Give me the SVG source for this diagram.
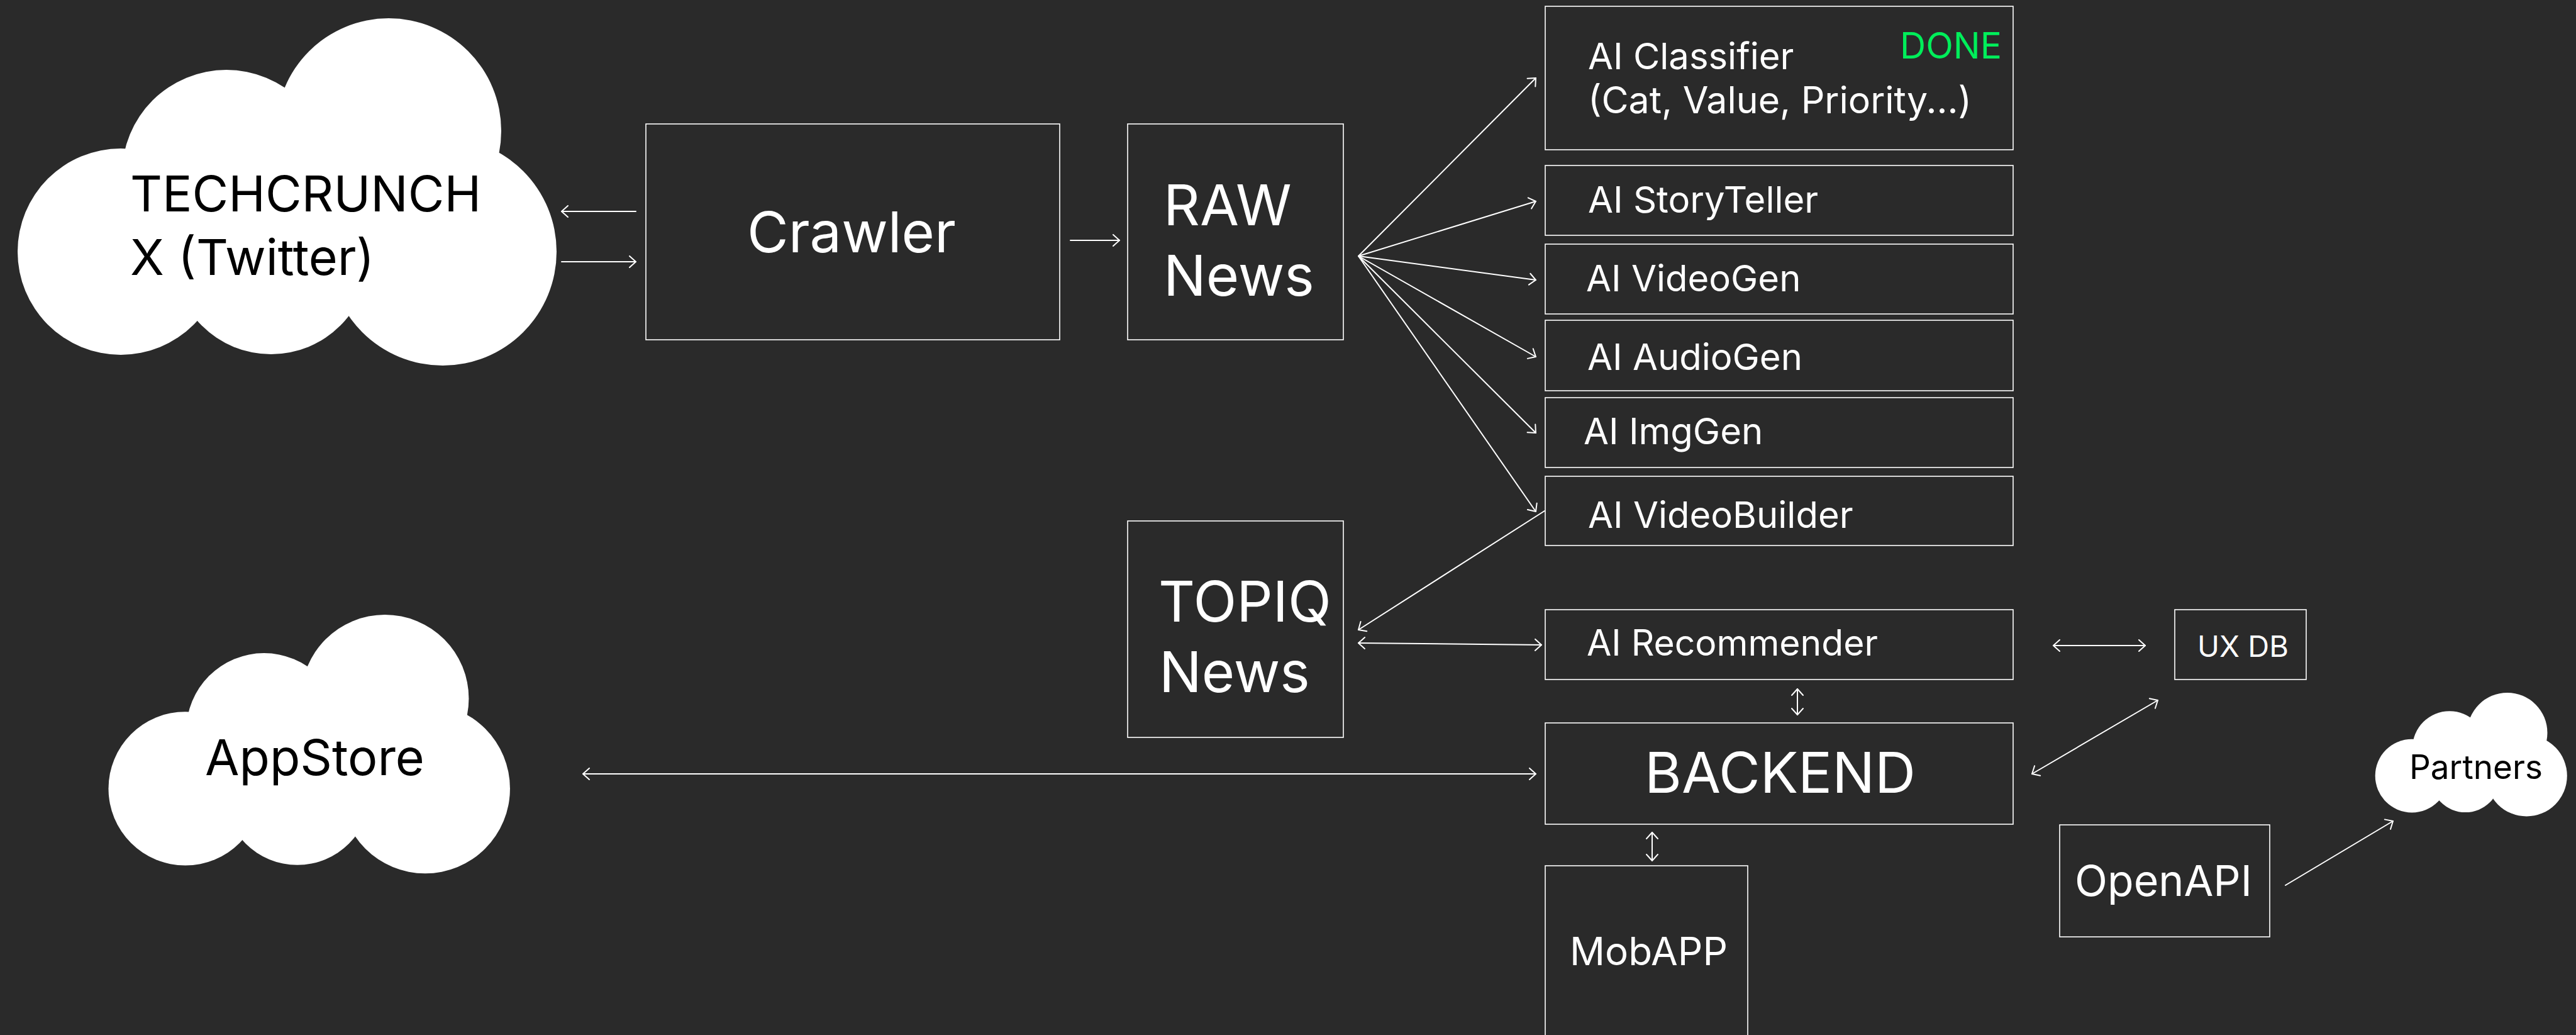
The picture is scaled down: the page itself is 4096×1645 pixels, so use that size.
<svg xmlns="http://www.w3.org/2000/svg" width="4096" height="1645" viewBox="0 0 4096 1645">
<style>
.box{fill:none;stroke:#ffffff;stroke-width:1.6}
.t{font-family:Inter,"Liberation Sans",sans-serif;fill:#ffffff;font-weight:400}
.dk{fill:#000000}
.done{fill:#00ee5a}
.c{fill:none;stroke:#ffffff;stroke-width:2;stroke-linecap:round}
.cloud{fill:#ffffff}
</style>
<defs>
<marker id="ah" markerUnits="userSpaceOnUse" viewBox="-13 -12 16 24" refX="0" refY="0" markerWidth="16" markerHeight="24" orient="auto-start-reverse">
<path d="M-10,-9 L0,0 L-10,9" fill="none" stroke="#ffffff" stroke-width="2" stroke-linecap="round" stroke-linejoin="round"/>
</marker>
<g id="cloudShape" class="cloud">
<circle cx="592" cy="179" r="179"/>
<circle cx="334" cy="248" r="166"/>
<circle cx="166" cy="371" r="164"/>
<circle cx="405" cy="378" r="156"/>
<circle cx="678" cy="371" r="181"/>
</g>
</defs>
<rect width="4096" height="1645" fill="#2a2a2a"/>

<g id="connectors" class="c">
<path d="M1011,336 L893,336" marker-end="url(#ah)"/>
<path d="M893,416 L1011,416" marker-end="url(#ah)"/>
<path d="M1702,382 L1780,382" marker-end="url(#ah)"/>
<path d="M2160,407 L2442,124" marker-end="url(#ah)"/>
<path d="M2160,407 L2442,320" marker-end="url(#ah)"/>
<path d="M2160,407 L2442,445" marker-end="url(#ah)"/>
<path d="M2160,407 L2442,567" marker-end="url(#ah)"/>
<path d="M2160,407 L2442,688" marker-end="url(#ah)"/>
<path d="M2160,407 L2442,813" marker-end="url(#ah)"/>
<path d="M2456,812 L2160,1001" marker-end="url(#ah)"/>
<path d="M2160,1022 L2451,1025" marker-start="url(#ah)" marker-end="url(#ah)"/>
<path d="M3265,1026 L3411,1026" marker-start="url(#ah)" marker-end="url(#ah)"/>
<path d="M2858,1095 L2858,1136" marker-start="url(#ah)" marker-end="url(#ah)"/>
<path d="M3431,1113 L3231,1230" marker-start="url(#ah)" marker-end="url(#ah)"/>
<path d="M2627,1323 L2627,1368" marker-start="url(#ah)" marker-end="url(#ah)"/>
<path d="M3634,1407 L3805,1305" marker-end="url(#ah)"/>
<path d="M927,1230 L2442,1230" marker-start="url(#ah)" marker-end="url(#ah)"/>
</g>

<g id="techcrunch">
<use href="#cloudShape" transform="translate(26,29)"/>
<text class="t dk" x="207" y="336" font-size="79">TECHCRUNCH</text>
<text class="t dk" x="207" y="437" font-size="79">X (Twitter)</text>
</g>

<g id="crawler">
<rect class="box" x="1027" y="197" width="658" height="343"/>
<text class="t" x="1188" y="401" font-size="90">Crawler</text>
</g>

<g id="raw-news">
<rect class="box" x="1793" y="197" width="343" height="343"/>
<text class="t" x="1850" y="358" font-size="90">RAW</text>
<text class="t" x="1850" y="470" font-size="90">News</text>
</g>

<g id="topiq-news">
<rect class="box" x="1793" y="828" width="343" height="344"/>
<text class="t" x="1842" y="988" font-size="90">TOPIQ</text>
<text class="t" x="1843" y="1100" font-size="90">News</text>
</g>

<g id="ai-classifier">
<rect class="box" x="2457" y="10" width="744" height="228"/>
<text class="t" x="2525" y="110" font-size="58">AI Classifier</text>
<text class="t" x="2525" y="180" font-size="59">(Cat, Value, Priority...)</text>
<text class="t done" x="3021" y="93" font-size="57">DONE</text>
</g>

<g id="ai-storyteller">
<rect class="box" x="2457" y="263" width="744" height="111"/>
<text class="t" x="2525" y="338" font-size="58">AI StoryTeller</text>
</g>

<g id="ai-videogen">
<rect class="box" x="2457" y="388" width="744" height="111"/>
<text class="t" x="2522" y="463" font-size="58">AI VideoGen</text>
</g>

<g id="ai-audiogen">
<rect class="box" x="2457" y="509" width="744" height="112"/>
<text class="t" x="2524" y="588" font-size="58">AI AudioGen</text>
</g>

<g id="ai-imggen">
<rect class="box" x="2457" y="632" width="744" height="111"/>
<text class="t" x="2518" y="706" font-size="58">AI ImgGen</text>
</g>

<g id="ai-videobuilder">
<rect class="box" x="2457" y="757" width="744" height="110"/>
<text class="t" x="2525" y="839" font-size="58">AI VideoBuilder</text>
</g>

<g id="ai-recommender">
<rect class="box" x="2457" y="969" width="744" height="111"/>
<text class="t" x="2523" y="1042" font-size="57">AI Recommender</text>
</g>

<g id="ux-db">
<rect class="box" x="3458" y="969" width="209" height="111"/>
<text class="t" x="3494" y="1044" font-size="47">UX DB</text>
</g>

<g id="backend">
<rect class="box" x="2457" y="1149" width="744" height="161"/>
<text class="t" x="2615" y="1260" font-size="90">BACKEND</text>
</g>

<g id="mobapp">
<rect class="box" x="2457" y="1376" width="322" height="290"/>
<text class="t" x="2496" y="1534" font-size="62">MobAPP</text>
</g>

<g id="openapi">
<rect class="box" x="3275" y="1311" width="334" height="178"/>
<text class="t" x="3299" y="1424" font-size="68">OpenAPI</text>
</g>

<g id="partners">
<use href="#cloudShape" transform="translate(3776,1101) scale(0.356)"/>
<text class="t dk" x="3831" y="1238" font-size="53">Partners</text>
</g>

<g id="appstore">
<use href="#cloudShape" transform="translate(171,977) scale(0.745)"/>
<text class="t dk" x="326" y="1232" font-size="79">AppStore</text>
</g>
</svg>
